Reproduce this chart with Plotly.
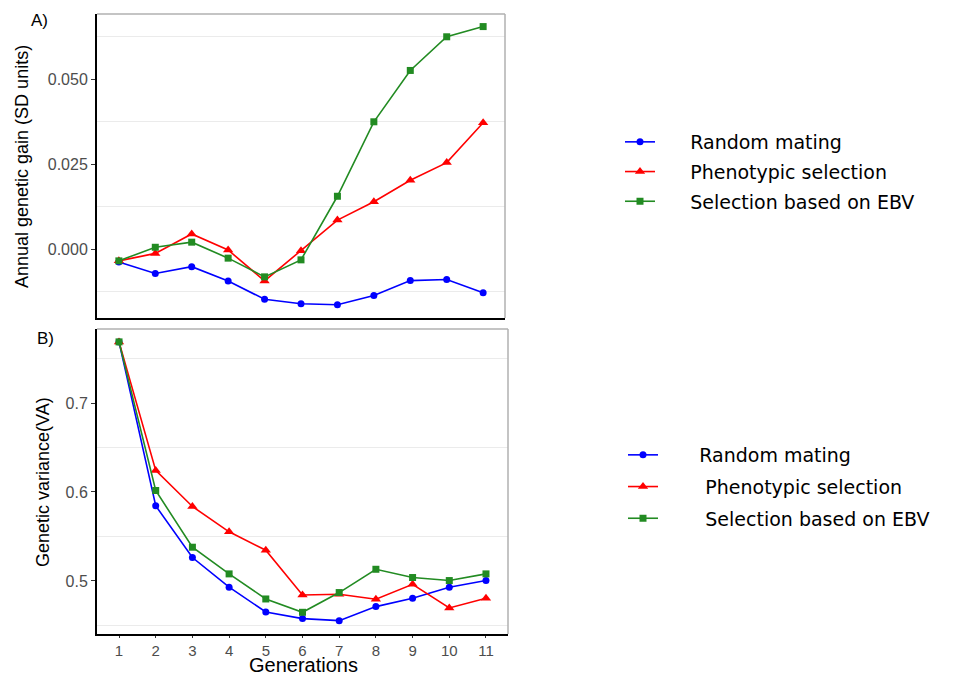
import plotly.graph_objects as go

generations = list(range(1, 12))

# Panel A: annual genetic gain (SD units)
gain_random = [-0.0037, -0.0071, -0.0051, -0.0093, -0.0147, -0.0160, -0.0163, -0.0136, -0.0092, -0.0089, -0.0128]
gain_pheno = [-0.0034, -0.0012, 0.0045, -0.0002, -0.0093, -0.0004, 0.0086, 0.0140, 0.0203, 0.0255, 0.0372]
gain_ebv = [-0.0034, 0.0006, 0.0021, -0.0026, -0.0081, -0.0031, 0.0156, 0.0375, 0.0526, 0.0625, 0.0655]

# Panel B: genetic variance (VA)
va_random = [0.7688, 0.5845, 0.5263, 0.4929, 0.4651, 0.4576, 0.4553, 0.4711, 0.4805, 0.4929, 0.5004]
va_pheno = [0.7688, 0.6243, 0.5837, 0.5552, 0.5345, 0.4842, 0.4850, 0.4794, 0.4962, 0.4696, 0.4805]
va_ebv = [0.7688, 0.6017, 0.5379, 0.5079, 0.4797, 0.4647, 0.4869, 0.5131, 0.5038, 0.5004, 0.5079]

series_names = ["Random mating", "Phenotypic selection", "Selection based on EBV"]
colors = ["#0000FF", "#FF0000", "#228B22"]
symbols = ["circle", "triangle-up", "square"]
msizes = [7, 9, 7]

# page body has an 8px margin; the figure fills the rest of the 958x677 window
OFF = 8
W, H = 958 - OFF, 677 - OFF
def px_x(x):
    return (x - OFF) / W
def px_y(y):
    return 1 - (y - OFF) / H

fig = go.Figure()

NB = "\u00a0"
padA = [5, 5, 5]
padB = [6, 7, 7]

for i, ys in enumerate([gain_random, gain_pheno, gain_ebv]):
    fig.add_trace(go.Scatter(
        x=generations, y=ys, mode="lines+markers",
        name=NB * padA[i] + series_names[i],
        line=dict(color=colors[i], width=1.6),
        marker=dict(symbol=symbols[i], size=msizes[i], color=colors[i]),
        xaxis="x", yaxis="y", legend="legend", legendgroup="a%d" % i,
    ))
for i, ys in enumerate([va_random, va_pheno, va_ebv]):
    fig.add_trace(go.Scatter(
        x=generations, y=ys, mode="lines+markers",
        name=NB * padB[i] + series_names[i],
        line=dict(color=colors[i], width=1.6),
        marker=dict(symbol=symbols[i], size=msizes[i], color=colors[i]),
        xaxis="x2", yaxis="y2", legend="legend2", legendgroup="b%d" % i,
    ))

tickfont = dict(family="Liberation Sans, Arial, sans-serif", size=16, color="#4d4d4d")
xtickfont = dict(family="Liberation Sans, Arial, sans-serif", size=15, color="#4d4d4d")
legfont = dict(family="DejaVu Sans, sans-serif", size=19, color="#000000")

fig.update_layout(
    width=W, height=H,
    margin=dict(l=0, r=0, t=0, b=0, autoexpand=False),
    paper_bgcolor="white", plot_bgcolor="white",
    xaxis=dict(domain=[px_x(97), px_x(505)], range=[0.4, 11.6], anchor="y",
               automargin=False,
               showticklabels=False, ticks="", showgrid=False, zeroline=False,
               showline=True, linecolor="black", linewidth=2),
    yaxis=dict(domain=[px_y(318), px_y(14)], range=[-0.0202, 0.0692], anchor="x",
               automargin=False,
               tickvals=[0.0, 0.025, 0.05], ticktext=["0.000", "0.025", "0.050"],
               ticks="outside", ticklen=4, tickwidth=1.2, tickcolor="#333333",
               tickfont=tickfont, showgrid=False, zeroline=False,
               showline=True, linecolor="black", linewidth=2,
               minor=dict(tick0=0.0125, dtick=0.025, showgrid=True,
                          gridcolor="#ebebeb", gridwidth=1, ticks="")),
    xaxis2=dict(domain=[px_x(97), px_x(508)], range=[0.4, 11.6], anchor="y2",
                automargin=False,
                tickvals=generations, ticks="outside", ticklen=2, tickwidth=1.2,
                tickcolor="#333333", tickfont=xtickfont, showgrid=False, zeroline=False,
                showline=True, linecolor="black", linewidth=2),
    yaxis2=dict(domain=[px_y(634), px_y(329)], range=[0.4403, 0.7833], anchor="x2",
                automargin=False,
                tickvals=[0.5, 0.6, 0.7], ticktext=["0.5", "0.6", "0.7"],
                ticks="outside", ticklen=4, tickwidth=1.2, tickcolor="#333333",
                tickfont=tickfont, showgrid=False, zeroline=False,
                showline=True, linecolor="black", linewidth=2,
                minor=dict(tick0=0.45, dtick=0.1, showgrid=True,
                           gridcolor="#ebebeb", gridwidth=1, ticks="")),
    legend=dict(x=px_x(620), y=px_y(123), xanchor="left", yanchor="top",
                font=legfont, bgcolor="rgba(0,0,0,0)", tracegroupgap=2,
                itemwidth=30),
    legend2=dict(x=px_x(623), y=px_y(436), xanchor="left", yanchor="top",
                 font=legfont, bgcolor="rgba(0,0,0,0)", tracegroupgap=4,
                 itemwidth=30),
)

# grey top/right borders
for xr, yr in [("x domain", "y domain"), ("x2 domain", "y2 domain")]:
    fig.add_shape(type="line", xref=xr, yref=yr, x0=0, x1=1, y0=1, y1=1,
                  line=dict(color="#b0b0b0", width=1.5))
    fig.add_shape(type="line", xref=xr, yref=yr, x0=1, x1=1, y0=0, y1=1,
                  line=dict(color="#b0b0b0", width=1.5))

titlefont = dict(family="Liberation Sans, Arial, sans-serif", size=18, color="black")
fig.add_annotation(text="Annual genetic gain (SD units)", textangle=-90,
                   x=px_x(22), y=px_y(167), xref="paper", yref="paper",
                   showarrow=False, font=titlefont, xanchor="center", yanchor="middle")
fig.add_annotation(text="Genetic variance(VA)", textangle=-90,
                   x=px_x(43), y=px_y(482), xref="paper", yref="paper",
                   showarrow=False, font=titlefont, xanchor="center", yanchor="middle")
fig.add_annotation(text="Generations", x=px_x(303), y=px_y(677), xref="paper", yref="paper",
                   showarrow=False, borderpad=0,
                   font=dict(family="Liberation Sans, Arial, sans-serif", size=20, color="black"),
                   xanchor="center", yanchor="bottom")
fig.add_annotation(text="A)", x=px_x(39), y=px_y(20), xref="paper", yref="paper",
                   showarrow=False, font=dict(family="Liberation Sans, Arial, sans-serif", size=17, color="black"),
                   xanchor="center", yanchor="middle")
fig.add_annotation(text="B)", x=px_x(45), y=px_y(338), xref="paper", yref="paper",
                   showarrow=False, font=dict(family="Liberation Sans, Arial, sans-serif", size=17, color="black"),
                   xanchor="center", yanchor="middle")

fig.write_html("out.html")
